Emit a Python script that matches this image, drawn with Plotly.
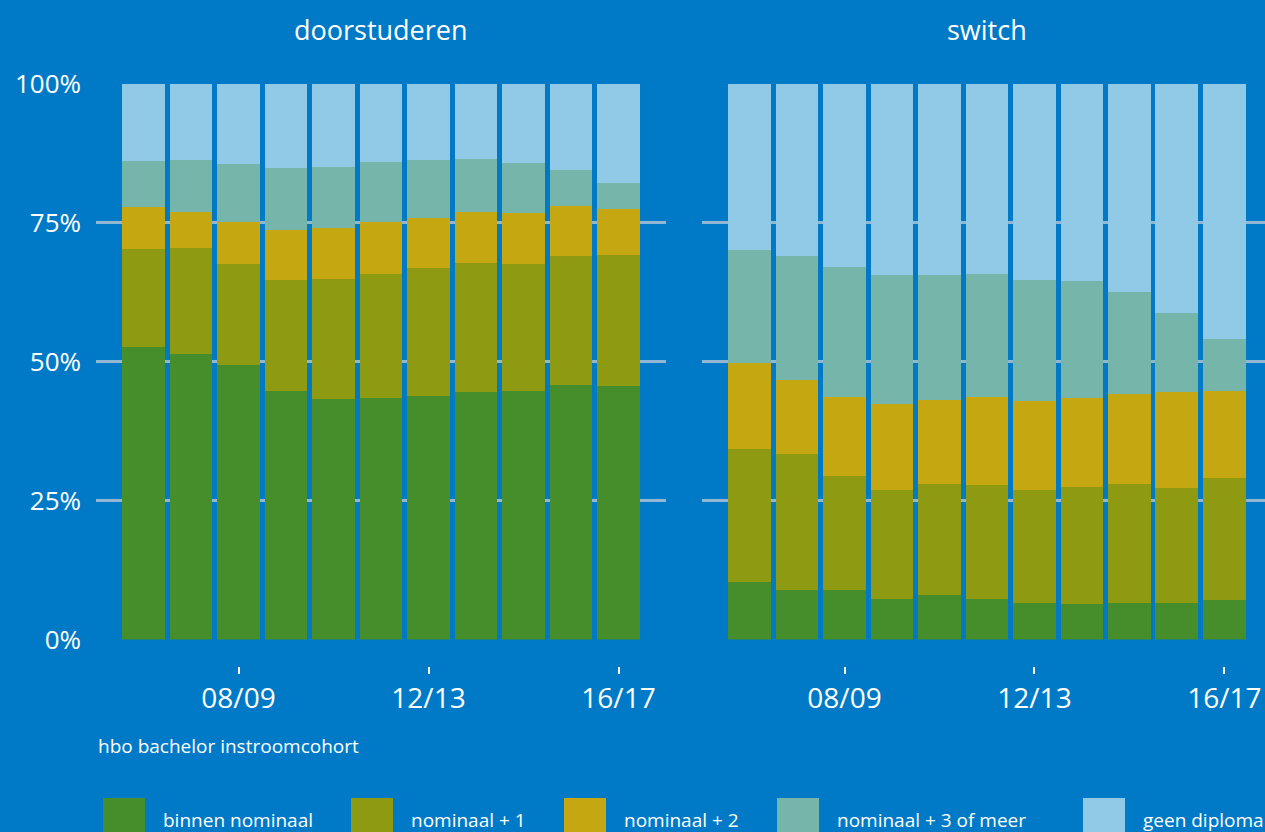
import plotly.graph_objects as go

# ---------------- data ----------------
cohorts = ["06/07", "07/08", "08/09", "09/10", "10/11", "11/12",
           "12/13", "13/14", "14/15", "15/16", "16/17"]
tick_labels = ["08/09", "12/13", "16/17"]
series_names = ["binnen nominaal", "nominaal + 1", "nominaal + 2",
                "nominaal + 3 of meer", "geen diploma"]
panel_titles = ["doorstuderen", "switch"]

# doorstuderen (percent of cohort)
door_binnen = [52.6, 51.4, 49.4, 44.7, 43.3, 43.5, 43.8, 44.6, 44.7, 45.8, 45.6]
door_nom1 = [17.7, 19.1, 18.2, 20.0, 21.6, 22.3, 23.1, 23.2, 22.9, 23.2, 23.6]
door_nom2 = [7.6, 6.4, 7.5, 9.0, 9.1, 9.3, 9.0, 9.1, 9.1, 9.1, 8.3]
door_nom3 = [8.2, 9.4, 10.5, 11.2, 11.1, 10.9, 10.4, 9.6, 9.1, 6.5, 4.7]
door_geen = [13.9, 13.7, 14.4, 15.1, 14.9, 14.0, 13.7, 13.5, 14.2, 15.4, 17.8]

# switch (percent of cohort)
sw_binnen = [10.3, 8.9, 8.9, 7.3, 8.0, 7.3, 6.6, 6.4, 6.6, 6.6, 7.1]
sw_nom1 = [24.0, 24.5, 20.5, 19.6, 20.0, 20.5, 20.3, 21.1, 21.4, 20.7, 22.0]
sw_nom2 = [15.5, 13.3, 14.2, 15.5, 15.1, 15.8, 16.0, 16.0, 16.2, 17.3, 15.6]
sw_nom3 = [20.3, 22.3, 23.4, 23.2, 22.5, 22.2, 21.8, 21.0, 18.4, 14.2, 9.4]
sw_geen = [29.9, 31.0, 33.0, 34.4, 34.4, 34.2, 35.3, 35.5, 37.4, 41.2, 45.9]

y_ticks = [0, 25, 50, 75, 100]
y_tick_text = ["0%", "25%", "50%", "75%", "100%"]
x_axis_title = "hbo bachelor instroomcohort"

# ---------------- style ----------------
colors = ["#458E2B", "#8E9A12", "#C5A811", "#76B5AA", "#90CAE7"]
BG = "#007AC7"
GRID = "#93B6D2"
FONT = "Open Sans, Noto Sans, sans-serif"
W, H = 1265, 832

door = [door_binnen, door_nom1, door_nom2, door_nom3, door_geen]
sw = [sw_binnen, sw_nom1, sw_nom2, sw_nom3, sw_geen]

fig = go.Figure()
for name, col, vals in zip(series_names, colors, door):
    fig.add_trace(go.Bar(x=cohorts, y=vals, name=name, marker_color=col,
                         marker_line_width=0, width=0.905,
                         xaxis="x", yaxis="y", showlegend=False))
for name, col, vals in zip(series_names, colors, sw):
    fig.add_trace(go.Bar(x=cohorts, y=vals, name=name, marker_color=col,
                         marker_line_width=0, width=0.905,
                         xaxis="x2", yaxis="y2", showlegend=False))

y_bottom, y_top = 639.5, 84
ydom = [(H - y_bottom) / H, (H - y_top) / H]
x_axis_pos = (H - 666) / H

common_x = dict(type="category", categoryorder="array", categoryarray=cohorts,
                tickmode="array", tickvals=tick_labels, ticktext=tick_labels,
                ticks="outside", ticklen=7, tickwidth=2, tickcolor="white",
                showgrid=False, showline=False, zeroline=False, automargin=False,
                tickfont=dict(family=FONT, size=28, color="white"),
                anchor="free", position=x_axis_pos)
common_y = dict(range=[0, 100], domain=ydom, tickmode="array",
                tickvals=y_ticks, ticktext=y_tick_text,
                showgrid=True, gridcolor=GRID, gridwidth=2.5, automargin=False,
                zeroline=False, showline=False, ticks="")

fig.update_layout(
    template="none",
    width=W, height=H,
    margin=dict(l=0, r=0, t=0, b=0, pad=0),
    paper_bgcolor=BG, plot_bgcolor=BG,
    barmode="stack",
    showlegend=False,
    xaxis=dict(domain=[96 / W, 666 / W], range=[-1, 11], **common_x),
    xaxis2=dict(domain=[702 / W, 1.0], range=[-1, 10.853], **common_x),
    yaxis=dict(anchor="x", ticklabelstandoff=14,
               tickfont=dict(family=FONT, size=26, color="white"), **common_y),
    yaxis2=dict(anchor="x2", showticklabels=False, **common_y),
)

# panel titles
for title, cx in zip(panel_titles, [381, 987]):
    fig.add_annotation(text=title, x=cx / W, y=(H - 30) / H, xref="paper",
                       yref="paper", showarrow=False, xanchor="center",
                       yanchor="middle",
                       font=dict(family=FONT, size=27, color="white"))

# x-axis caption
fig.add_annotation(text=x_axis_title, x=96 / W, y=(H - 746) / H, xref="paper",
                   yref="paper", showarrow=False, xanchor="left",
                   yanchor="middle", font=dict(family=FONT, size=19, color="white"))

# custom legend
legend_x = [103, 351, 564, 777, 1083]
for name, col, lx in zip(series_names, colors, legend_x):
    fig.add_shape(type="rect", xref="paper", yref="paper",
                  x0=lx / W, x1=(lx + 42) / W, y0=(H - 840) / H, y1=(H - 798) / H,
                  fillcolor=col, line_width=0)
    fig.add_annotation(text=name, x=(lx + 58) / W, y=(H - 820) / H,
                       xref="paper", yref="paper", showarrow=False,
                       xanchor="left", yanchor="middle",
                       font=dict(family=FONT, size=19, color="white"))

fig.write_html(
    "out.html",
    config={"displayModeBar": False, "responsive": False},
    post_script="document.body.style.margin='0px';"
                "document.body.style.overflow='hidden';",
)
